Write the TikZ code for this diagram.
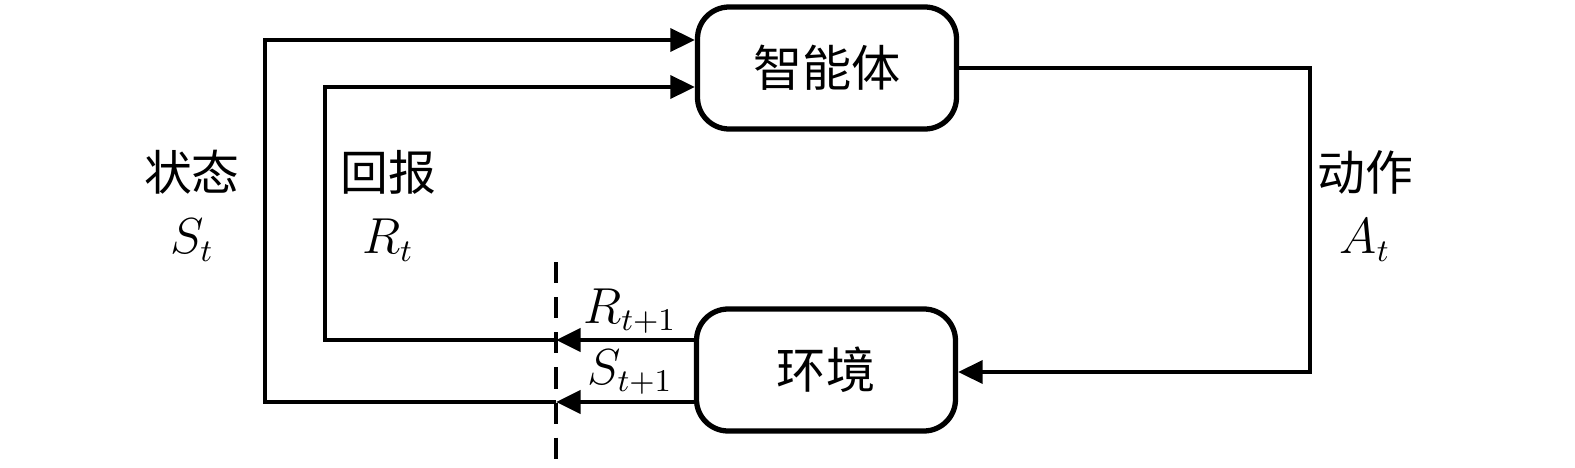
\documentclass[tikz,border=0pt]{standalone}
\usepackage{amsmath}
\usepackage{fontspec}
\newfontfamily\cjk{Noto Sans CJK SC}
\usepackage{tikz}
\usetikzlibrary{arrows.meta}

\tikzset{
	blk/.style={draw, line width=1.5pt, rounded corners=9pt, minimum width=2.59cm, minimum height=1.22cm, font=\cjk\fontsize{14}{16}\selectfont},
	lbl/.style={font=\cjk\fontsize{13.6}{16}\selectfont, inner sep=0pt},
	sym/.style={font=\fontsize{13.5}{16}\selectfont, inner sep=0pt},
	flow/.style={line width=1.3pt, -{Triangle[length=7pt,width=6.5pt]}}
}

\begin{document}
\begin{tikzpicture}[]
	\useasboundingbox (0,0) rectangle (15.75,4.67);
	\node[blk] (Agent) at (8.27,3.99) {智能体};
	\node[blk] (Env) at (8.26,0.97) {环境};
	%
	\coordinate (Ra) at (5.56,1.27);
	\coordinate (Sa) at (5.56,0.65);
	\coordinate (Rl) at (3.25,1.27);
	\coordinate (Sl) at (2.65,0.65);
	\coordinate (Rt) at (3.25,3.80);
	\coordinate (St) at (2.65,4.27);
	\coordinate (Ar) at (13.10,3.99);
	\coordinate (Ab) at (13.10,0.95);
	\coordinate (D1) at (5.56,2.05);
	\coordinate (D2) at (5.56,0.05);
	%
	\draw[flow] (Env.west |- Ra) -- (Ra);
	\draw[flow] (Env.west |- Sa) -- (Sa);
	\draw[flow] (Ra) -- (Rl) -- (Rt) -- (Agent.west |- Rt);
	\draw[flow] (Sa) -- (Sl) -- (St) -- (Agent.west |- St);
	\draw[flow] (Agent.east) -- (Ar) -- (Ab) -- (Env.east |- Ab);
	\draw[dashed, line width=1pt, dash pattern=on 6pt off 4pt] (D1) -- (D2);
	%
	\node[lbl] (state) at (1.92,2.95) {状态};
	\node[sym] (st) at (1.92,2.27) {$S_t$};
	\node[lbl] (reward) at (3.88,2.95) {回报};
	\node[sym] (rt) at (3.88,2.27) {$R_t$};
	\node[lbl] (action) at (13.65,2.95) {动作};
	\node[sym] (at) at (13.65,2.27) {$A_t$};
	\node[sym] (rnext) at (6.30,1.56) {$R_{t+1}$};
	\node[sym] (snext) at (6.30,0.95) {$S_{t+1}$};
\end{tikzpicture}
\end{document}
